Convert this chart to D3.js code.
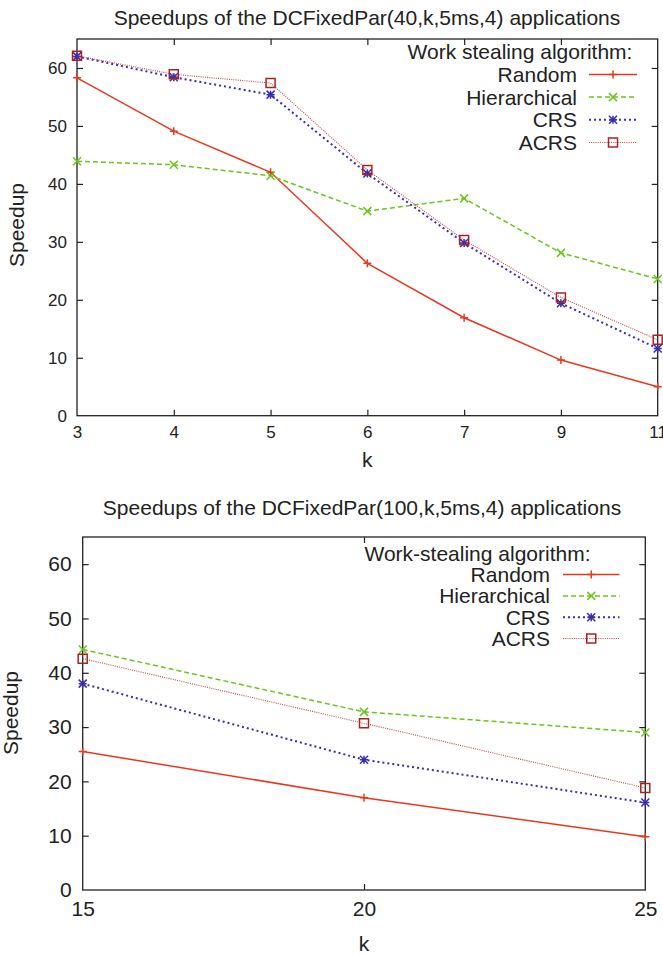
<!DOCTYPE html>
<html>
<head>
<meta charset="utf-8">
<script src="https://cdn.jsdelivr.net/npm/d3@7"></script>
<style>
  html, body { margin: 0; padding: 0; background: #fff; }
  svg { display: block; }
  text { font-family: "Liberation Sans", Arial, sans-serif; fill: #222; }
</style>
</head>
<body>
<svg id="chart" width="663" height="955"></svg>
<script>
// ---------- DATA ----------
const seriesNames = ["Random", "Hierarchical", "CRS", "ACRS"];

// Top chart: DCFixedPar(40,k,5ms,4)
const topTitle = "Speedups of the DCFixedPar(40,k,5ms,4) applications";
const topLegendTitle = "Work stealing algorithm:";
const topK = ["3", "4", "5", "6", "7", "9", "11"];
const topRandom = [58.3, 49.1, 42.0, 26.3, 16.9, 9.6, 5.0];
const topHierarchical = [43.9, 43.3, 41.4, 35.3, 37.5, 28.1, 23.6];
const topCRS = [62.0, 58.4, 55.4, 41.8, 29.8, 19.4, 11.6];
const topACRS = [62.1, 58.9, 57.4, 42.4, 30.3, 20.4, 13.1];

// Bottom chart: DCFixedPar(100,k,5ms,4)
const botTitle = "Speedups of the DCFixedPar(100,k,5ms,4) applications";
const botLegendTitle = "Work-stealing algorithm:";
const botK = [15, 20, 25];
const botRandom = [25.5, 17.0, 9.8];
const botHierarchical = [44.3, 32.8, 29.0];
const botCRS = [38.0, 24.0, 16.1];
const botACRS = [42.6, 30.7, 18.8];

const yTicks = [0, 10, 20, 30, 40, 50, 60];
const yMax = 65;

// ---------- STYLES ----------
const styles = {
  Random:       { color: "#e6391f", dash: null,    width: 1.5, marker: "plus" },
  Hierarchical: { color: "#6cc41e", dash: "5,3",   width: 1.5, marker: "cross" },
  CRS:          { color: "#3b2db0", dash: "2,3",   width: 2,   marker: "star" },
  ACRS:         { color: "#b52a2a", dash: "1,1.2", width: 1.1, marker: "square" }
};

const svg = d3.select("#chart");

function markerPath(type, s) {
  const p = d3.path();
  if (type === "plus" || type === "star") {
    p.moveTo(-s, 0); p.lineTo(s, 0);
    p.moveTo(0, -s); p.lineTo(0, s);
  }
  if (type === "cross" || type === "star") {
    p.moveTo(-s, -s); p.lineTo(s, s);
    p.moveTo(-s, s); p.lineTo(s, -s);
  }
  if (type === "square") {
    p.rect(-s, -s, 2 * s, 2 * s);
  }
  return p.toString();
}

function drawMarker(g, name, x, y) {
  const st = styles[name];
  const s = st.marker === "square" ? 4.5 : 4;
  g.append("path")
    .attr("d", markerPath(st.marker, s))
    .attr("transform", `translate(${x},${y})`)
    .attr("fill", "none")
    .attr("stroke", st.marker === "square" ? "#a82424" : st.color)
    .attr("stroke-width", 1.5);
}

function drawChart(cfg) {
  const g = svg.append("g");
  const x = cfg.x;
  const y = d3.scaleLinear().domain([0, yMax]).range([cfg.bottom, cfg.top]);

  // title
  g.append("text")
    .attr("x", cfg.titleX).attr("y", cfg.titleY)
    .attr("text-anchor", "middle").attr("dominant-baseline", "central")
    .attr("font-size", cfg.titleSize)
    .text(cfg.title);

  // frame
  g.append("rect")
    .attr("x", cfg.left).attr("y", cfg.top)
    .attr("width", cfg.right - cfg.left).attr("height", cfg.bottom - cfg.top)
    .attr("fill", "none").attr("stroke", "#222").attr("stroke-width", 1.3);

  const tl = 6;
  const yAxisL = d3.axisLeft(y).tickValues(yTicks).tickSize(-tl).tickPadding(cfg.yPad).tickFormat(d3.format("d"));
  const gyl = g.append("g").attr("transform", `translate(${cfg.left},0)`).call(yAxisL);
  const yAxisR = d3.axisRight(y).tickValues(yTicks).tickSize(-tl).tickFormat("");
  const gyr = g.append("g").attr("transform", `translate(${cfg.right},0)`).call(yAxisR);
  const xAxisB = d3.axisBottom(x).tickValues(cfg.xTicks).tickSize(-tl).tickPadding(cfg.xPad);
  const gxb = g.append("g").attr("transform", `translate(0,${cfg.bottom})`).call(xAxisB);
  const xAxisT = d3.axisTop(x).tickValues(cfg.xTicks).tickSize(-tl).tickFormat("");
  const gxt = g.append("g").attr("transform", `translate(0,${cfg.top})`).call(xAxisT);

  [gyl, gyr, gxb, gxt].forEach(a => {
    a.select(".domain").remove();
    a.selectAll(".tick line").attr("stroke", "#222").attr("stroke-width", 1.2);
    a.selectAll(".tick text").attr("fill", "#222").attr("font-size", cfg.tickSize)
      .attr("font-family", "Liberation Sans, Arial, sans-serif");
  });
  [gyl, gyr].forEach(a => a.selectAll(".tick").filter(d => d === 0).select("line").remove());
  [gxb, gxt].forEach(a => a.selectAll(".tick").filter((d, i) => i === 0 || i === cfg.xTicks.length - 1).select("line").remove());

  // axis labels
  g.append("text")
    .attr("x", (cfg.left + cfg.right) / 2).attr("y", cfg.kY)
    .attr("text-anchor", "middle").attr("dominant-baseline", "central")
    .attr("font-size", cfg.labelSize).text("k");
  g.append("text")
    .attr("transform", `translate(${cfg.speedX},${cfg.speedY}) rotate(-90)`)
    .attr("text-anchor", "middle").attr("dominant-baseline", "central")
    .attr("font-size", cfg.labelSize).text("Speedup");

  // series
  cfg.series.forEach((vals, si) => {
    const name = seriesNames[si];
    const st = styles[name];
    const pts = cfg.xTicks.map((k, i) => [x(k), y(vals[i])]);
    g.append("path")
      .attr("d", d3.line()(pts))
      .attr("fill", "none")
      .attr("stroke", st.color)
      .attr("stroke-width", st.width)
      .attr("stroke-dasharray", st.dash)
      .attr("opacity", name === "ACRS" ? 0.85 : 1);
    pts.forEach(p => drawMarker(g, name, p[0], p[1]));
  });

  // legend
  const L = cfg.legend;
  g.append("text")
    .attr("x", L.headX).attr("y", L.y0)
    .attr("text-anchor", "middle").attr("dominant-baseline", "central")
    .attr("font-size", cfg.legendSize).text(cfg.legendTitle);
  seriesNames.forEach((name, i) => {
    const st = styles[name];
    const yy = L.y0 + (i + 1) * L.dy;
    g.append("text")
      .attr("x", L.textX).attr("y", yy)
      .attr("text-anchor", "end").attr("dominant-baseline", "central")
      .attr("font-size", cfg.legendSize).text(name);
    g.append("line")
      .attr("x1", L.lineX1).attr("x2", L.lineX2).attr("y1", yy).attr("y2", yy)
      .attr("stroke", st.color).attr("stroke-width", st.width)
      .attr("stroke-dasharray", st.dash)
      .attr("opacity", name === "ACRS" ? 0.85 : 1);
    drawMarker(g, name, (L.lineX1 + L.lineX2) / 2, yy);
  });
}

// ---------- TOP CHART ----------
const topLeft = 77, topRight = 657.7;
drawChart({
  title: topTitle, titleX: 367, titleY: 17, titleSize: 21,
  left: topLeft, right: topRight, top: 39, bottom: 415.7,
  x: d3.scalePoint().domain(topK).range([topLeft, topRight]).padding(0),
  xTicks: topK,
  tickSize: 17, xPad: 10, yPad: 10,
  labelSize: 21, kY: 459, speedX: 16, speedY: 225,
  series: [topRandom, topHierarchical, topCRS, topACRS],
  legendTitle: topLegendTitle, legendSize: 21,
  legend: { headX: 520, y0: 51.7, dy: 22.7, textX: 577, lineX1: 589, lineX2: 637 }
});

// ---------- BOTTOM CHART ----------
const botLeft = 82.7, botRight = 645.3;
drawChart({
  title: botTitle, titleX: 362, titleY: 507, titleSize: 21,
  left: botLeft, right: botRight, top: 537, bottom: 890,
  x: d3.scaleLinear().domain([15, 25]).range([botLeft, botRight]),
  xTicks: botK,
  tickSize: 21, xPad: 11, yPad: 11,
  labelSize: 21, kY: 943, speedX: 10, speedY: 713,
  series: [botRandom, botHierarchical, botCRS, botACRS],
  legendTitle: botLegendTitle, legendSize: 21,
  legend: { headX: 477.5, y0: 553.3, dy: 21.3, textX: 550, lineX1: 563, lineX2: 619.5 }
});
</script>
</body>
</html>
